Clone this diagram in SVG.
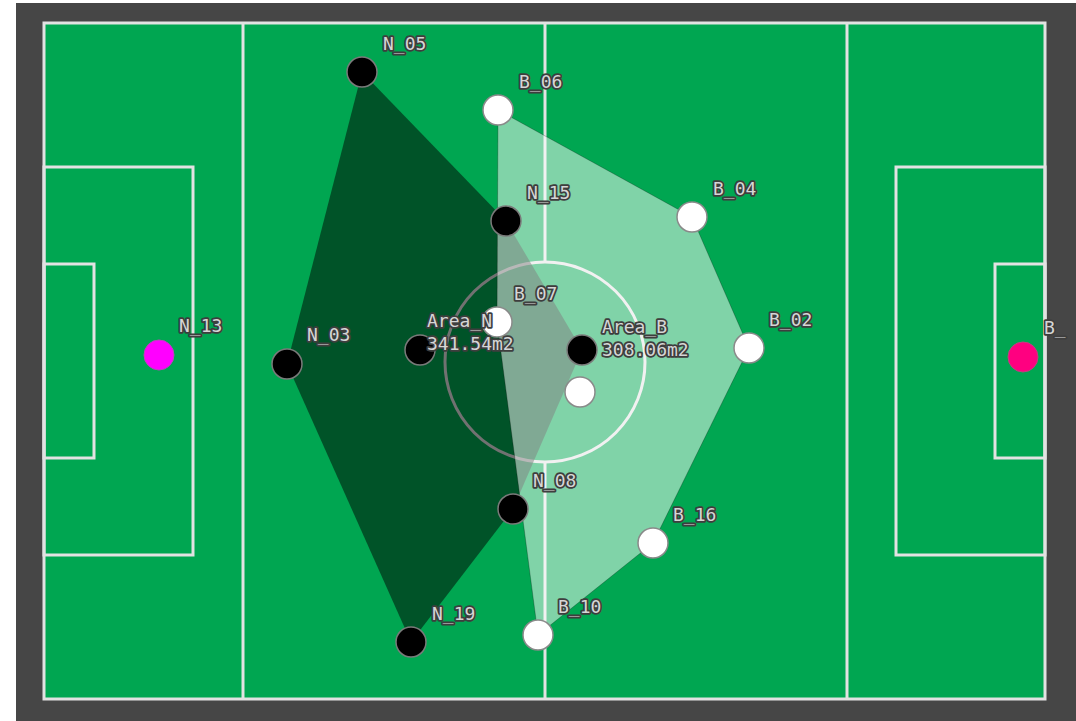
<svg xmlns="http://www.w3.org/2000/svg" width="1076" height="721" viewBox="0 0 1076 721">
<style>
.ln{fill:none;stroke:#e2e2e2;stroke-width:3}
.lbl{font-family:"DejaVu Sans Mono","Liberation Mono",monospace;font-size:18px;fill:#d6d6d6;stroke:#3e3e3e;stroke-width:3.5;stroke-linejoin:round;paint-order:stroke}
.nb{fill:#000;stroke:#7a7a7a;stroke-width:1.5}
.wb{fill:#fff;stroke:#8a8a8a;stroke-width:1.5}
</style>
<rect x="0" y="0" width="1076" height="721" fill="#ffffff"/>
<rect x="16" y="3" width="1060" height="718" fill="#464646"/>
<g id="field">
<rect x="44" y="23" width="1001" height="676" fill="#00a651"/>
<rect class="ln" x="44" y="23" width="1001" height="676"/>
<line class="ln" x1="243" y1="23" x2="243" y2="699"/>
<line class="ln" x1="847" y1="23" x2="847" y2="699"/>
<line class="ln" x1="545" y1="23" x2="545" y2="262"/>
<line class="ln" x1="545" y1="462" x2="545" y2="699"/>
<circle class="ln" cx="545" cy="362" r="100"/>
<rect class="ln" x="44" y="167" width="149" height="388"/>
<rect class="ln" x="44" y="264" width="50" height="194"/>
<rect class="ln" x="896" y="167" width="149" height="388"/>
<rect class="ln" x="995" y="264" width="50" height="194"/>
</g>
<g id="connectors">
<polygon id="area_N" points="362,72 506,221 582,350 513,509 411,642 287,364" fill="#000" fill-opacity="0.5"/>
<polygon id="area_B" points="498,110 692,217 749,348 653,543 538,635 497,322" fill="#fff" fill-opacity="0.5" stroke="#000" stroke-opacity="0.25" stroke-width="1"/>
</g>
<g id="N_05"><circle class="nb" cx="362" cy="72" r="15"/><text class="lbl" x="383" y="50">N_05</text></g>
<g id="N_15"><circle class="nb" cx="506" cy="221" r="15"/><text class="lbl" x="527" y="199">N_15</text></g>
<g id="N_03"><circle class="nb" cx="287" cy="364" r="15"/><text class="lbl" x="307" y="341">N_03</text></g>
<g id="N_08"><circle class="nb" cx="513" cy="509" r="15"/><text class="lbl" x="533" y="487">N_08</text></g>
<g id="N_19"><circle class="nb" cx="411" cy="642" r="15"/><text class="lbl" x="432" y="620">N_19</text></g>
<g id="N_13"><circle cx="159" cy="355" r="15" fill="#ff00ff" stroke="#c040c0" stroke-width="1"/><text class="lbl" x="179" y="332">N_13</text></g>
<g id="B_06"><circle class="wb" cx="498" cy="110" r="15"/><text class="lbl" x="519" y="88">B_06</text></g>
<g id="B_04"><circle class="wb" cx="692" cy="217" r="15"/><text class="lbl" x="713" y="195">B_04</text></g>
<g id="B_02"><circle class="wb" cx="749" cy="348" r="15"/><text class="lbl" x="769" y="326">B_02</text></g>
<g id="B_16"><circle class="wb" cx="653" cy="543" r="15"/><text class="lbl" x="673" y="521">B_16</text></g>
<g id="B_10"><circle class="wb" cx="538" cy="635" r="15"/><text class="lbl" x="558" y="613">B_10</text></g>
<g id="B_x"><circle cx="1023" cy="357" r="15" fill="#ff0080" stroke="#c04080" stroke-width="1"/><text class="lbl" x="1044" y="334">B_</text></g>
<g id="extra_N"><circle class="nb" cx="582" cy="350" r="15"/></g>
<g id="extra_B"><circle class="wb" cx="580" cy="392" r="15"/></g>
<g id="B_07"><circle class="wb" cx="497" cy="322" r="15"/><text class="lbl" x="514" y="300">B_07</text></g>
<g id="Area_N"><circle class="nb" cx="420" cy="350" r="15"/><text class="lbl" x="427" y="327">Area_N</text><text class="lbl" x="427" y="350">341.54m2</text></g>
<g id="Area_B"><text class="lbl" x="602" y="333">Area_B</text><text class="lbl" x="602" y="356">308.06m2</text></g>
</svg>
